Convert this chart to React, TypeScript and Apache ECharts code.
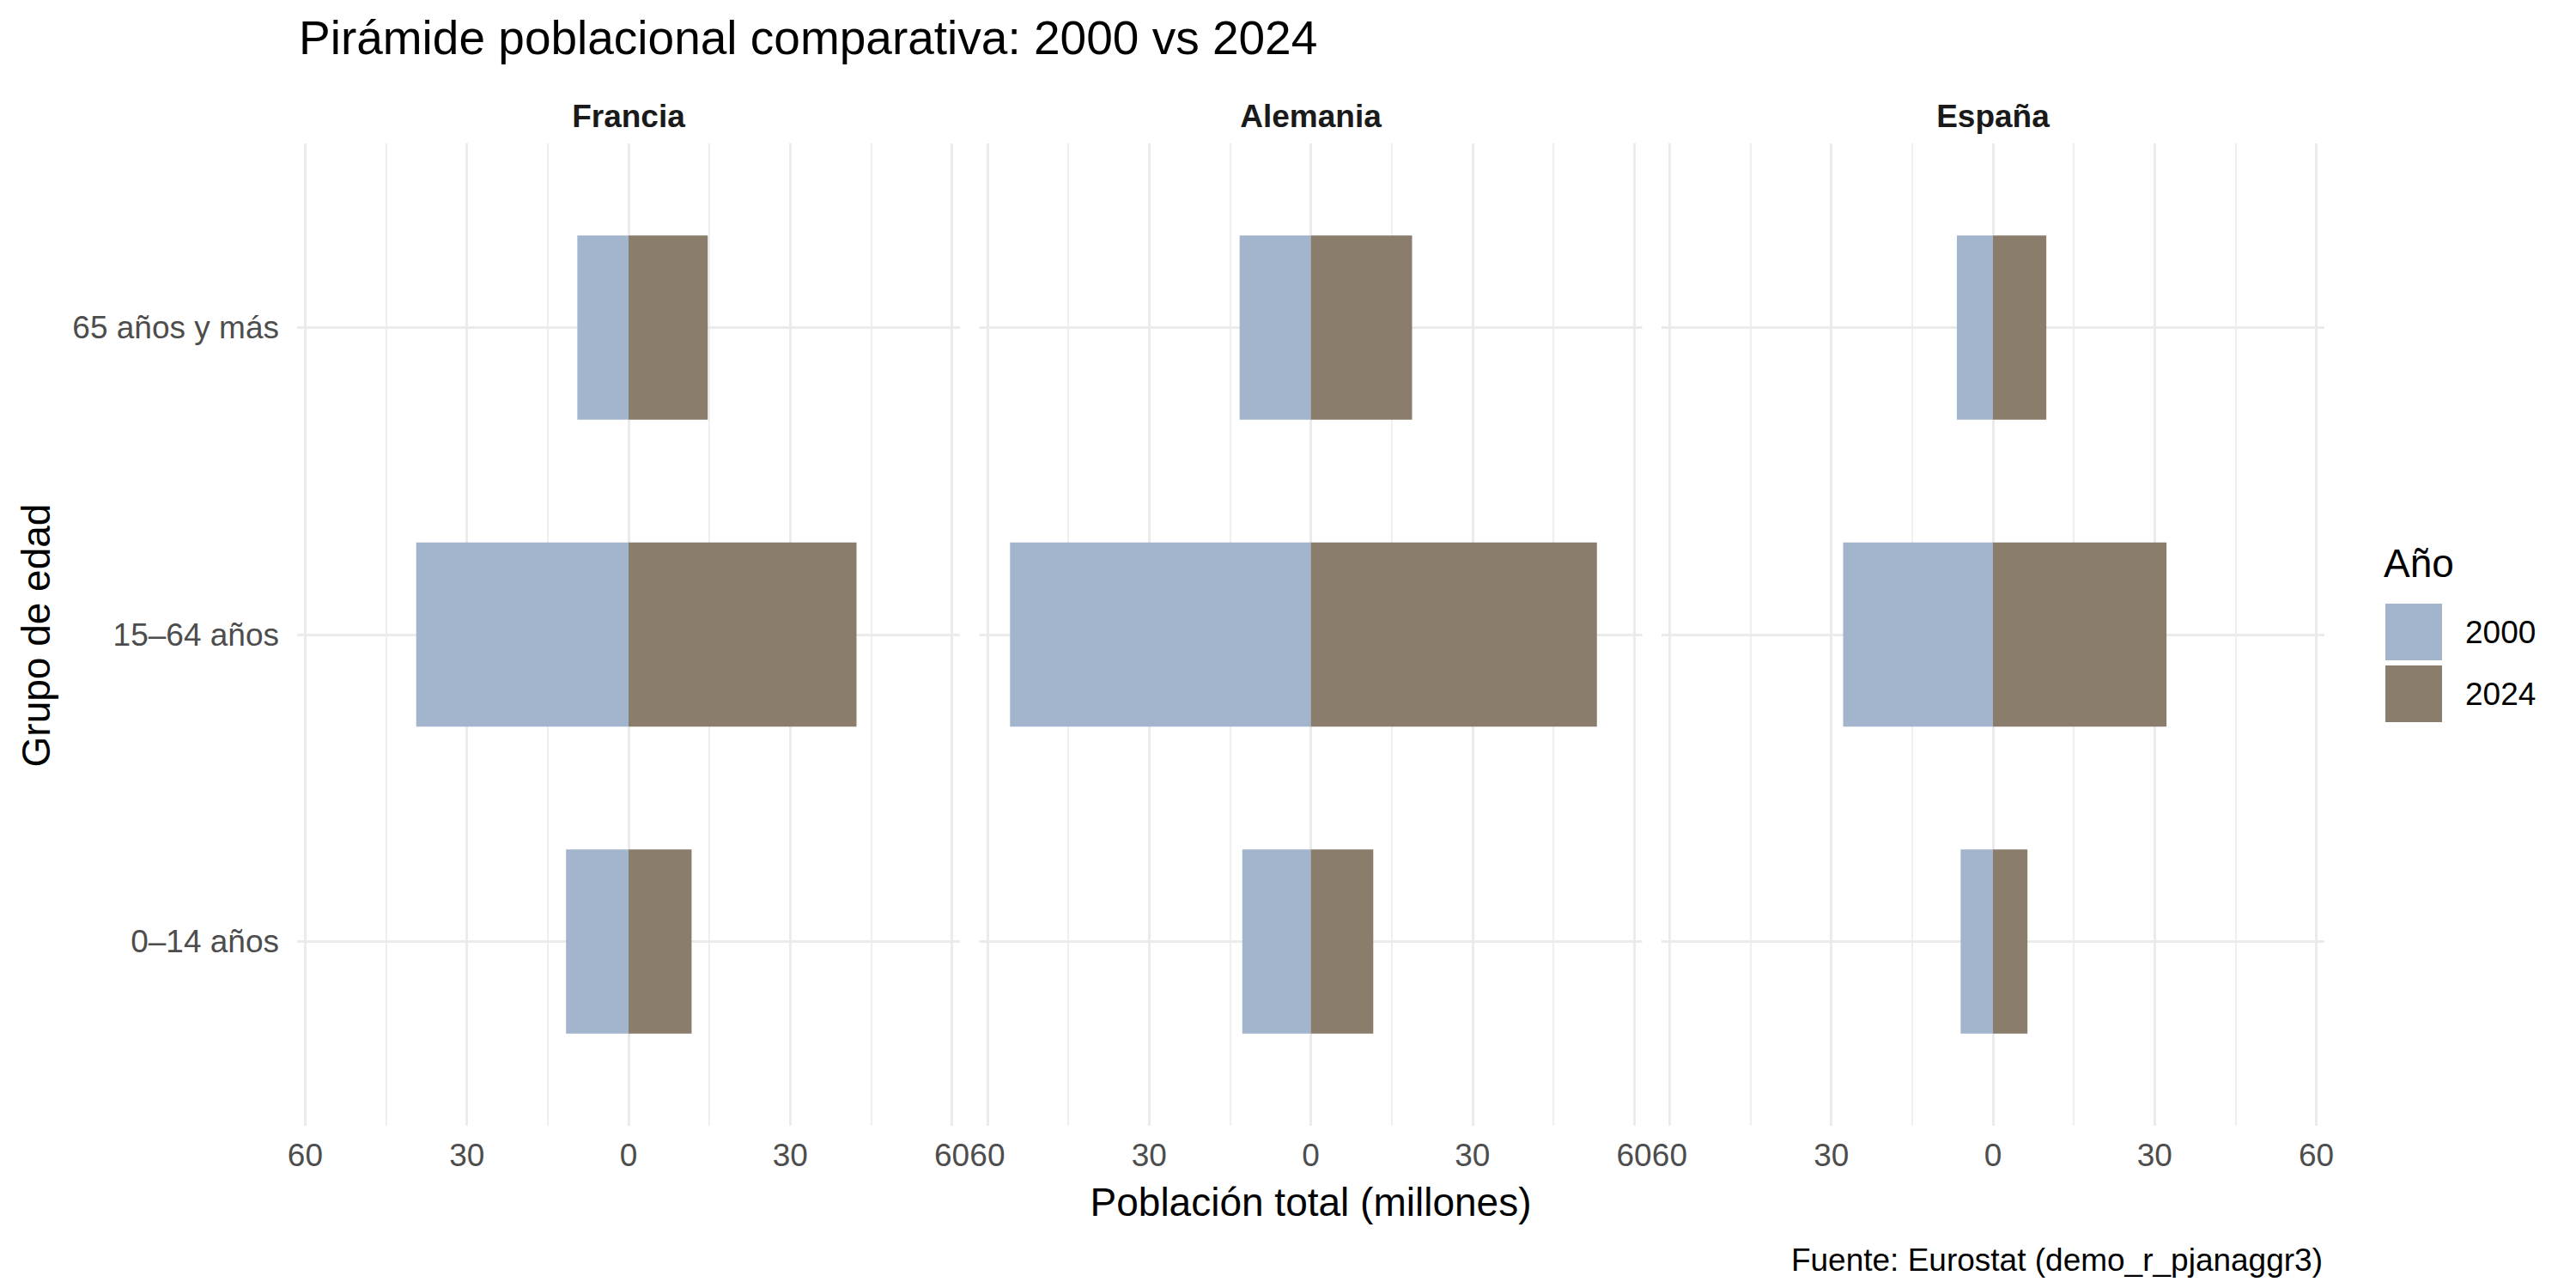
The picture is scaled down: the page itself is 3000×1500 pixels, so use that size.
import React, { useEffect, useRef } from 'react';
import * as echarts from 'echarts';

const TITLE = 'Pirámide poblacional comparativa: 2000 vs 2024';
const X_TITLE = 'Población total (millones)';
const Y_TITLE = 'Grupo de edad';
const CAPTION = 'Fuente: Eurostat (demo_r_pjanaggr3)';
const LEGEND_TITLE = 'Año';

const COUNTRIES = ['Francia', 'Alemania', 'España'];
const AGE_GROUPS = ['0–14 años', '15–64 años', '65 años y más'];
const YEARS = ['2000', '2024'];

// millions, order follows AGE_GROUPS
const FRANCIA_2000 = [11.6, 39.4, 9.5];
const FRANCIA_2024 = [11.7, 42.3, 14.7];
const ALEMANIA_2000 = [12.7, 55.8, 13.2];
const ALEMANIA_2024 = [11.6, 53.1, 18.8];
const ESPANA_2000 = [6.0, 27.8, 6.7];
const ESPANA_2024 = [6.4, 32.2, 9.9];

const VALUES_2000 = [FRANCIA_2000, ALEMANIA_2000, ESPANA_2000];
const VALUES_2024 = [FRANCIA_2024, ALEMANIA_2024, ESPANA_2024];

const X_MAJOR_TICKS = [-60, -30, 0, 30, 60];
const X_MINOR_TICKS = [-45, -15, 15, 45];
const X_LIMIT = 61.5;

const COLORS = ['#A2B5CD', '#8B7D6B'];
const FONT = '"Liberation Sans", Arial, Helvetica, sans-serif';
const GRID_COLOR = '#EBEBEB';

const GRID_LEFTS = [346, 1140.5, 1935];
const GRID_WIDTH = 772;
const GRID_TOP = 167;
const GRID_HEIGHT = 1144;
const BAR_WIDTH = 0.6;

export default function App() {
  const ref = useRef<HTMLDivElement>(null);

  useEffect(() => {
    if (!ref.current) return;
    const chart = echarts.init(ref.current, null, { renderer: 'svg' });

    const grids: any[] = [];
    const xAxes: any[] = [];
    const yAxes: any[] = [];
    const series: any[] = [];
    const graphics: any[] = [];

    COUNTRIES.forEach((country, i) => {
      grids.push({ left: GRID_LEFTS[i], top: GRID_TOP, width: GRID_WIDTH, height: GRID_HEIGHT, containLabel: false });
      xAxes.push({
        type: 'value', gridIndex: i, position: 'bottom', min: -X_LIMIT, max: X_LIMIT,
        axisLine: { show: false },
        axisTick: { show: false, customValues: X_MAJOR_TICKS },
        axisLabel: {
          customValues: X_MAJOR_TICKS,
          formatter: (v: number) => String(Math.abs(v)),
          color: '#4D4D4D', fontSize: 37, fontFamily: FONT, margin: 34, verticalAlign: 'middle',
        },
        splitLine: { show: true, lineStyle: { color: GRID_COLOR, width: 3 } },
      });
      xAxes.push({
        type: 'value', gridIndex: i, position: 'top', min: -X_LIMIT, max: X_LIMIT,
        axisLine: { show: false },
        axisTick: { show: false, customValues: X_MINOR_TICKS },
        axisLabel: { show: false, customValues: X_MINOR_TICKS },
        splitLine: { show: true, lineStyle: { color: GRID_COLOR, width: 1.6 } },
      });
      yAxes.push({
        type: 'value', gridIndex: i, min: 0.4, max: 3.6,
        axisLine: { show: false },
        axisTick: { show: false, customValues: [1, 2, 3] },
        axisLabel: {
          show: i === 0,
          customValues: [1, 2, 3],
          formatter: (v: number) => AGE_GROUPS[Math.round(v) - 1] ?? '',
          color: '#4D4D4D', fontSize: 37, fontFamily: FONT, margin: 21,
        },
        splitLine: { show: true, lineStyle: { color: GRID_COLOR, width: 3 } },
      });

      [VALUES_2000[i], VALUES_2024[i]].forEach((vals, k) => {
        const color = COLORS[k];
        series.push({
          type: 'custom',
          name: YEARS[k],
          xAxisIndex: 2 * i,
          yAxisIndex: i,
          itemStyle: { color },
          data: vals.map((v, j) => [k === 0 ? -v : v, j + 1]),
          renderItem: (params: any, api: any) => {
            const xv = api.value(0);
            const yv = api.value(1);
            const p0 = api.coord([0, yv]);
            const p1 = api.coord([xv, yv]);
            const h = api.size([0, BAR_WIDTH])[1];
            return {
              type: 'rect',
              shape: { x: Math.min(p0[0], p1[0]), y: p0[1] - h / 2, width: Math.abs(p1[0] - p0[0]), height: h },
              style: { fill: color },
            };
          },
        });
      });

      graphics.push({
        type: 'text', x: GRID_LEFTS[i] + GRID_WIDTH / 2, y: 135,
        style: { text: country, fill: '#1A1A1A', font: `bold 37px ${FONT}`, align: 'center', verticalAlign: 'middle' },
      });
    });

    graphics.push(
      { type: 'text', x: 348, y: 44, style: { text: TITLE, fill: '#000', font: `55px ${FONT}`, align: 'left', verticalAlign: 'middle' } },
      { type: 'text', x: (GRID_LEFTS[0] + GRID_LEFTS[2] + GRID_WIDTH) / 2, y: 1400, style: { text: X_TITLE, fill: '#000', font: `46px ${FONT}`, align: 'center', verticalAlign: 'middle' } },
      { type: 'text', x: 41.5, y: 740, rotation: Math.PI / 2, style: { text: Y_TITLE, fill: '#000', font: `46px ${FONT}`, align: 'center', verticalAlign: 'middle' } },
      { type: 'text', x: 2705, y: 1467, style: { text: CAPTION, fill: '#000', font: `37px ${FONT}`, align: 'right', verticalAlign: 'middle' } },
      { type: 'text', x: 2776, y: 656, style: { text: LEGEND_TITLE, fill: '#000', font: `46px ${FONT}`, align: 'left', verticalAlign: 'middle' } },
    );

    chart.setOption({
      animation: false,
      backgroundColor: '#FFFFFF',
      grid: grids,
      xAxis: xAxes,
      yAxis: yAxes,
      series,
      legend: {
        data: YEARS,
        orient: 'vertical',
        left: 2778,
        top: 703,
        padding: 0,
        itemWidth: 66,
        itemHeight: 66,
        itemGap: 6,
        icon: 'rect',
        textStyle: { fontSize: 37, fontFamily: FONT, color: '#000', padding: [0, 0, 0, 22] },
      },
      graphic: graphics,
    });

    return () => chart.dispose();
  }, []);

  return <div ref={ref} style={{ position: 'fixed', left: 0, top: 0, width: 3000, height: 1500 }} />;
}
